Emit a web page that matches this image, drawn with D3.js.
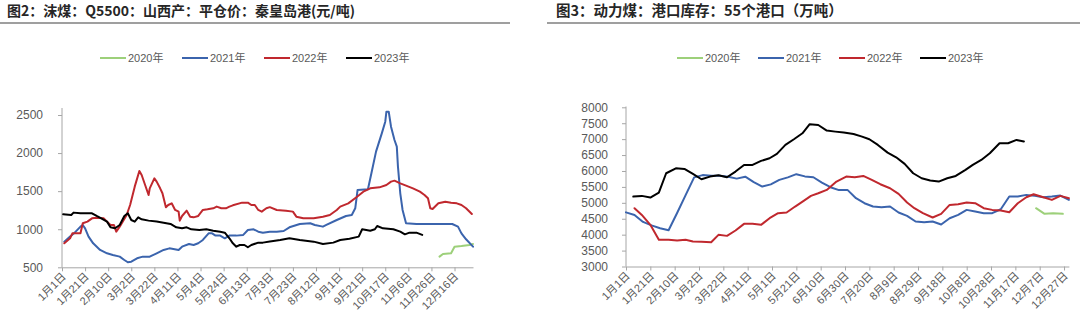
<!DOCTYPE html>
<html>
<head>
<meta charset="utf-8">
<script src="https://cdn.jsdelivr.net/npm/d3@7"></script>
<style>
  html, body { margin: 0; padding: 0; background: #fff; }
  svg { display: block; }
</style>
</head>
<body>
<svg id="chart" width="1080" height="324"></svg>
<script>
// ---------- Figure 2: Shanxi Q5500 steam coal, FOB Qinhuangdao (yuan/t) ----------
// x = trading-day index within the year, y = price
const priceTickLabels = ["1月1日","1月21日","2月10日","3月2日","3月22日","4月11日","5月4日","5月24日","6月13日",
  "7月3日","7月23日","8月12日","9月1日","9月21日","10月17日","11月6日","11月26日","12月16日"];
const priceYTicks = [500, 1000, 1500, 2000, 2500];

const price2020 = [[327,640],[330,675],[337,684],[340,771],[346,780],[353,793],[356,806]];
const price2021 = [[2,837],[7,903],[11,955],[16,1034],[18,1056],[20,1012],[23,903],[27,815],[33,728],[39,684],
  [44,662],[50,640],[54,596],[57,566],[60,574],[65,618],[70,640],[76,640],[82,684],[88,728],[93,749],[101,728],
  [104,771],[110,806],[114,793],[118,815],[122,859],[127,946],[130,946],[133,916],[137,916],[141,881],[145,916],
  [151,916],[157,925],[161,990],[166,999],[170,968],[174,955],[180,968],[186,968],[192,977],[197,1025],[206,1069],
  [215,1078],[219,1056],[226,1034],[229,1056],[238,1121],[246,1174],[251,1187],[254,1275],[256,1515],[265,1524],
  [268,1734],[272,2019],[277,2259],[280,2412],[281,2544],[283,2544],[285,2347],[288,2172],[290,2084],[291,1822],
  [293,1472],[295,1253],[298,1078],[307,1069],[324,1069],[338,1069],[343,1034],[346,946],[350,868],[356,771]];
const price2022 = [[2,815],[7,880],[9,946],[16,946],[18,1078],[22,1100],[26,1143],[30,1152],[36,1143],[39,1100],
  [42,1056],[45,1056],[47,968],[50,1034],[56,1187],[59,1318],[63,1559],[67,1765],[69,1712],[72,1581],[75,1450],
  [76,1537],[80,1668],[82,1625],[85,1537],[87,1472],[90,1288],[92,1318],[95,1340],[98,1253],[101,1231],[102,1113],
  [104,1174],[108,1244],[111,1165],[114,1156],[118,1174],[122,1253],[126,1261],[131,1275],[134,1297],[138,1275],
  [142,1275],[145,1297],[148,1314],[156,1349],[161,1349],[164,1318],[167,1318],[170,1253],[173,1231],[177,1275],
  [180,1290],[186,1253],[194,1244],[200,1231],[203,1165],[209,1143],[218,1143],[226,1165],[232,1187],[238,1253],
  [241,1297],[248,1340],[255,1419],[261,1493],[267,1537],[275,1550],[281,1581],[285,1625],[288,1638],[293,1603],
  [298,1572],[304,1537],[310,1493],[314,1450],[317,1406],[319,1275],[321,1266],[326,1340],[332,1362],[337,1349],
  [342,1340],[346,1318],[350,1275],[355,1200]];
const price2023 = [[1,1196],[8,1187],[10,1218],[16,1209],[26,1209],[30,1174],[34,1143],[39,1100],[42,1025],
  [46,1012],[50,1056],[54,1174],[57,1209],[60,1121],[63,1100],[66,1156],[69,1130],[75,1113],[82,1100],[88,1086],
  [94,1069],[99,1025],[104,1012],[108,1025],[112,999],[119,990],[125,999],[131,981],[137,968],[141,955],[145,881],
  [148,815],[151,771],[154,793],[158,793],[161,763],[164,793],[170,824],[174,824],[180,840],[189,859],[197,881],
  [206,859],[218,837],[226,806],[235,824],[241,859],[249,876],[257,903],[260,999],[267,981],[271,999],[273,1043],
  [278,1012],[287,999],[293,968],[297,933],[301,955],[307,955],[312,925]];

// ---------- Figure 3: steam coal inventory at 55 ports (10k t) ----------
// x = day of year, y = inventory
const stockTickLabels = ["1月1日","1月21日","2月10日","3月2日","3月22日","4月11日","5月1日","5月21日","6月10日",
  "6月30日","7月20日","8月9日","8月29日","9月18日","10月8日","10月28日","11月17日","12月7日","12月27日"];
const stockYTicks = [3000, 3500, 4000, 4500, 5000, 5500, 6000, 6500, 7000, 7500, 8000];

const stock2020 = [[337,4831],[344,4653],[351,4674],[359,4653]];
const stock2021 = [[0,4700],[7,4620],[14,4400],[21,4290],[28,4200],[35,4140],[42,4680],[49,5240],[56,5800],
  [63,5870],[70,5850],[77,5850],[84,5820],[91,5760],[98,5820],[105,5650],[112,5510],[119,5580],[126,5720],
  [133,5800],[140,5900],[147,5830],[154,5803],[161,5636],[168,5490],[175,5400],[182,5406],[189,5144],[196,4987],
  [203,4883],[210,4862],[217,4883],[224,4695],[231,4590],[238,4412],[245,4391],[252,4412],[259,4318],[266,4517],
  [273,4621],[280,4778],[287,4726],[294,4674],[301,4674],[308,4799],[315,5197],[322,5197],[329,5249],[336,5218],
  [343,5176],[350,5197],[357,5228],[364,5092]];
const stock2022 = [[7,4830],[13,4621],[20,4308],[27,3837],[35,3837],[42,3816],[49,3837],[55,3785],[62,3774],
  [70,3764],[76,3994],[83,3962],[90,4130],[97,4339],[104,4339],[111,4308],[118,4517],[125,4674],[132,4695],
  [139,4883],[146,5061],[152,5218],[158,5301],[165,5406],[173,5667],[181,5824],[188,5803],[195,5845],[202,5720],
  [209,5584],[217,5458],[224,5280],[231,5008],[237,4831],[244,4674],[252,4538],[259,4653],[266,4935],[273,4956],
  [280,5008],[287,4987],[294,4831],[301,4778],[308,4757],[315,4705],[322,4987],[329,5176],[335,5270],[343,5176],
  [350,5092],[357,5218],[364,5144]];
const stock2023 = [[6,5197],[13,5218],[20,5165],[27,5322],[33,5929],[41,6085],[48,6065],[55,5908],[62,5741],
  [69,5824],[76,5866],[83,5803],[90,5981],[97,6190],[104,6190],[111,6316],[118,6400],[124,6536],[131,6818],
  [138,6996],[145,7184],[151,7470],[158,7445],[165,7268],[172,7236],[179,7205],[187,7163],[194,7080],[200,6996],
  [207,6818],[215,6577],[222,6431],[229,6222],[236,5929],[243,5772],[250,5699],[257,5667],[264,5772],[271,5845],
  [279,6033],[285,6190],[292,6347],[299,6556],[307,6870],[314,6870],[321,6975],[327,6923]];

const seriesNames = ["2020年", "2021年", "2022年", "2023年"];
const seriesColors = ["#9dd07a", "#3b64ad", "#c0282e", "#000000"];

const svg = d3.select("#chart");
const FONT = "'Liberation Sans', Arial, 'Noto Sans CJK SC', sans-serif";
const CJK = "'Noto Sans CJK SC', 'Liberation Sans', sans-serif";

function drawPanel(cfg) {
  const g = svg.append("g");

  // heading and its rule
  g.append("text")
    .attr("x", cfg.titleX).attr("y", 16)
    .attr("font-family", CJK).attr("font-size", cfg.titleSize).attr("font-weight", 700)
    .attr("fill", "#262626")
    .text(cfg.title);
  g.append("line")
    .attr("x1", cfg.ruleX1).attr("x2", cfg.ruleX2).attr("y1", 23).attr("y2", 23)
    .attr("stroke", "#7f7f7f").attr("stroke-width", 1.6);

  // legend
  const lg = g.append("g");
  seriesNames.forEach((name, i) => {
    const lx = cfg.legendX + i * cfg.legendStep;
    lg.append("line").attr("x1", lx).attr("x2", lx + 26).attr("y1", 58).attr("y2", 58)
      .attr("stroke", seriesColors[i]).attr("stroke-width", 2);
    lg.append("text").attr("x", lx + 28).attr("y", 62)
      .attr("font-family", FONT).attr("font-size", 11).attr("fill", "#595959")
      .text(name);
  });

  const x = d3.scaleLinear().domain(cfg.xDomain).range(cfg.xRange);
  const y = d3.scaleLinear().domain(cfg.yDomain).range(cfg.yRange);

  // y axis
  const yAxis = d3.axisLeft(y).tickValues(cfg.yTicks).tickSize(4).tickSizeOuter(0).tickPadding(cfg.yPad)
    .tickFormat(d3.format("d"));
  const ya = g.append("g").attr("transform", `translate(${cfg.xRange[0]},0)`).call(yAxis);
  ya.select(".domain").remove();
  ya.append("line").attr("x1", 0).attr("x2", 0).attr("y1", cfg.yRange[0]).attr("y2", cfg.yAxisTop)
    .attr("stroke", "#a6a6a6");
  ya.selectAll(".tick line").attr("stroke", "#a6a6a6");
  ya.selectAll(".tick text").attr("font-family", FONT).attr("font-size", 12).attr("fill", "#595959");

  // x axis
  const xTickVals = cfg.xLabels.map((_, i) => i * 20);
  const xAxis = d3.axisBottom(x).tickValues(xTickVals).tickSize(4).tickSizeOuter(0)
    .tickFormat((d, i) => cfg.xLabels[i]);
  const xa = g.append("g").attr("transform", `translate(0,${cfg.yRange[0]})`).call(xAxis);
  xa.select(".domain").attr("stroke", "#a6a6a6");
  xa.selectAll(".tick line").attr("stroke", "#a6a6a6");
  xa.selectAll(".tick text")
    .attr("font-family", FONT).attr("font-size", 11).attr("fill", "#595959")
    .attr("text-anchor", "end")
    .attr("dy", 0).attr("y", 0)
    .attr("transform", "translate(4,10) rotate(-45)");

  // series
  const line = d3.line().x(d => x(d[0])).y(d => y(d[1]));
  cfg.series.forEach((data, i) => {
    g.append("path").datum(data)
      .attr("fill", "none").attr("stroke", seriesColors[i]).attr("stroke-width", 2)
      .attr("stroke-linejoin", "round").attr("stroke-linecap", "round")
      .attr("d", line);
  });
}

drawPanel({
  title: "图2：沫煤：Q5500：山西产：平仓价：秦皇岛港(元/吨)",
  titleX: 7, titleSize: 14, ruleX1: 0, ruleX2: 510,
  legendX: 100, legendStep: 82,
  xDomain: [0, 356], xRange: [62, 473],
  yDomain: [500, 2500], yRange: [267.3, 115], yAxisTop: 108, yTicks: priceYTicks, yPad: 15,
  xLabels: priceTickLabels,
  series: [price2020, price2021, price2022, price2023]
});

drawPanel({
  title: "图3：动力煤：港口库存：55个港口（万吨）",
  titleX: 556, titleSize: 14.5, ruleX1: 547, ruleX2: 1080,
  legendX: 677, legendStep: 81,
  xDomain: [0, 364], xRange: [626, 1068.9],
  yDomain: [3000, 8000], yRange: [266.5, 107.3], yAxisTop: 106.5, yTicks: stockYTicks, yPad: 14,
  xLabels: stockTickLabels,
  series: [stock2020, stock2021, stock2022, stock2023]
});
</script>
</body>
</html>
